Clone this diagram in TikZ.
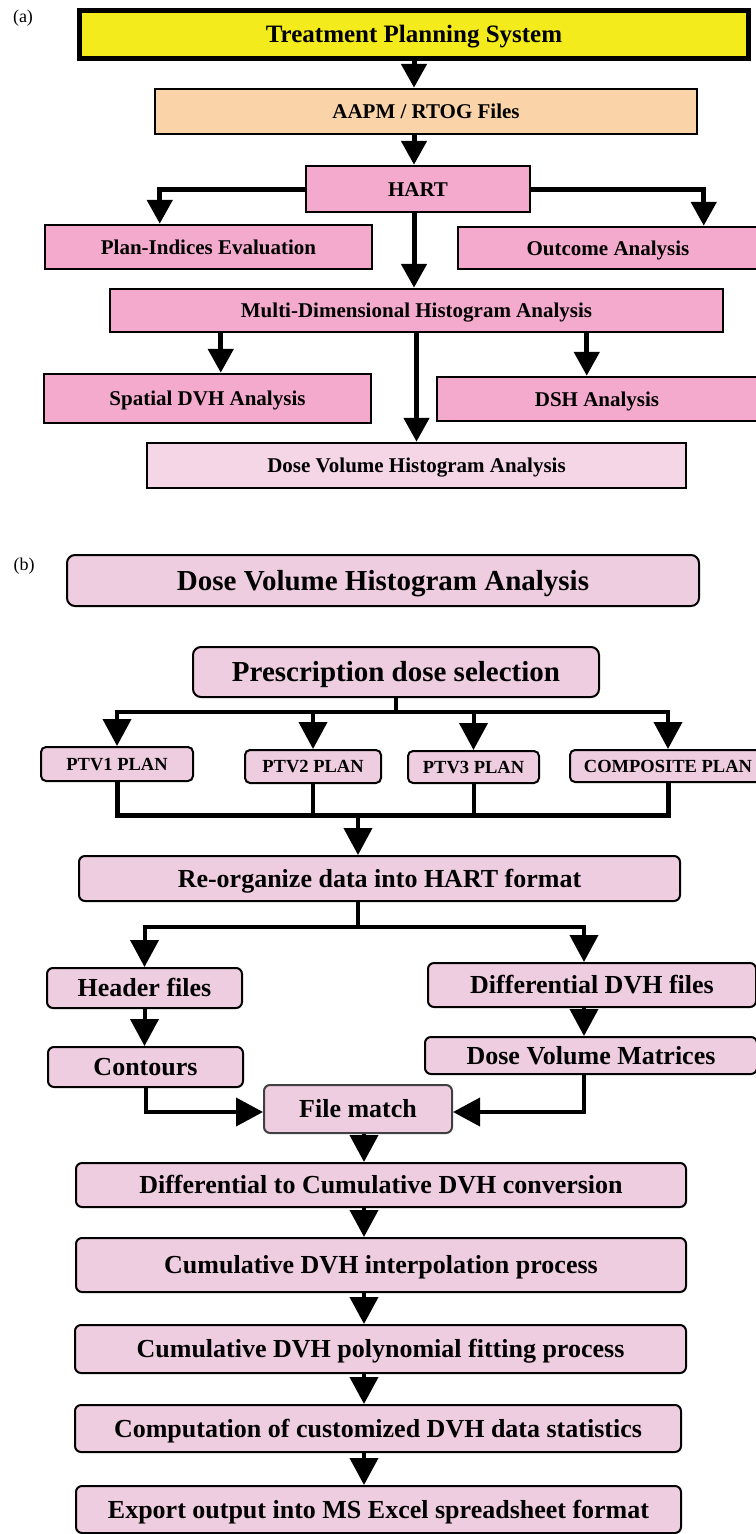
\documentclass[tikz,border=0pt]{standalone}
\usepackage{fontspec}
\setmainfont{Liberation Serif}
\usetikzlibrary{arrows.meta,calc}
\definecolor{tpsY}{RGB}{243,235,27}
\definecolor{peach}{RGB}{250,212,168}
\definecolor{pinkA}{RGB}{243,170,204}
\definecolor{pinkL}{RGB}{245,214,230}
\definecolor{lilac}{RGB}{239,205,224}
\begin{document}
\begin{tikzpicture}[x=1pt,y=-1pt,
 abox/.style={draw=black, line width=2.5pt, fill=pinkA, inner sep=0pt, font=\fontsize{21}{24}\selectfont\bfseries, text height=14pt, text depth=0pt},
 bbox/.style={draw=black, line width=2pt, fill=lilac, rounded corners=6pt, inner sep=0pt, font=\fontsize{26}{30}\selectfont\bfseries, text height=17pt, text depth=0pt},
 bigbox/.style={bbox, rounded corners=8pt, font=\fontsize{29}{32}\selectfont\bfseries, text height=19pt},
 ptvbox/.style={bbox, rounded corners=5pt, font=\fontsize{18.5}{21}\selectfont\bfseries, text height=12.2pt},
 aarr/.style={line width=5pt, -{Triangle[width=25pt,length=24pt]}},
 barr/.style={line width=4pt, -{Triangle[width=28pt,length=27pt]}},
 bline/.style={line width=4pt},
 lbl/.style={font=\fontsize{18}{20}\selectfont, inner sep=0pt}
]
\path[use as bounding box, fill=white] (0,0) rectangle (755,1534);

% ---------------- (a) ----------------
\node[lbl] (la) at (23,18) {(a)};
\node[abox, fill=tpsY, line width=5pt, font=\fontsize{25}{28}\selectfont\bfseries, text height=16.5pt, minimum width=669pt, minimum height=48pt] (tps) at (414,34.5) {Treatment Planning System};
\node[abox, fill=peach, minimum width=542pt, minimum height=45pt] (aapm) at (426,111.5) {AAPM / RTOG Files};
\node[abox, minimum width=224pt, minimum height=46pt] (hart) at (418,189) {HART};
\node[abox, minimum width=327pt, minimum height=44pt] (plan) at (208.5,247) {Plan-Indices Evaluation};
\node[abox, minimum width=300pt, minimum height=42pt] (outc) at (608,248) {Outcome Analysis};
\node[abox, minimum width=613pt, minimum height=43pt] (multi) at (416.5,310.5) {Multi-Dimensional Histogram Analysis};
\node[abox, minimum width=327pt, minimum height=49pt] (spat) at (207.5,398.5) {Spatial DVH Analysis};
\node[abox, minimum width=320pt, minimum height=44pt] (dsh) at (597,399) {DSH Analysis};
\node[abox, fill=pinkL, minimum width=539pt, minimum height=45pt] (dvha) at (416.5,465.5) {Dose Volume Histogram Analysis};

\coordinate (px) at ([xshift=116pt]plan.north west);
\coordinate (ox) at ([xshift=247pt]outc.north west);
\coordinate (sx) at ([xshift=178pt]spat.north west);
\coordinate (dx) at ([xshift=151pt]dsh.north west);

\draw[aarr] (tps.south) -- (tps.south |- aapm.north);
\draw[aarr] (aapm.south -| tps.south) -- (hart.north -| tps.south);
\draw[aarr] (hart.west) -| (px);
\draw[aarr] (hart.east) -| (ox);
\draw[aarr] (hart.south -| tps.south) -- (multi.north -| tps.south);
\draw[aarr] (sx |- multi.south) -- (sx);
\draw[aarr] (multi.south) -- (multi.south |- dvha.north);
\draw[aarr] (dx |- multi.south) -- (dx);

% ---------------- (b) ----------------
\node[lbl] (lb) at (24,566) {(b)};
\node[bigbox, minimum width=632pt, minimum height=51pt] (hdr) at (383,580.5) {Dose Volume Histogram Analysis};
\node[bigbox, minimum width=406pt, minimum height=50pt] (pres) at (396,672) {Prescription dose selection};
\node[ptvbox, minimum width=152pt, minimum height=34pt] (p1) at (117,764) {PTV1 PLAN};
\node[ptvbox, minimum width=136pt, minimum height=33pt] (p2) at (313,766.5) {PTV2 PLAN};
\node[ptvbox, minimum width=131pt, minimum height=32pt] (p3) at (473.5,767) {PTV3 PLAN};
\node[ptvbox, minimum width=196pt, minimum height=32pt] (p4) at (668,766) {COMPOSITE PLAN};

\coordinate (busT) at (0,712);
\coordinate (busB) at (0,815);
\coordinate (busR) at (0,927);
\coordinate (X358) at (358,0);
\coordinate (X584) at (584,0);
\coordinate (X364) at (364,0);

\draw[barr] (pres.south) |- (busT -| p1.north) -- (p1.north);
\draw[barr] (pres.south) |- (busT -| p4.north) -- (p4.north);
\draw[barr] (busT -| p2.north) -- (p2.north);
\draw[barr] (busT -| p3.north) -- (p3.north);

\node[bbox, minimum width=601pt, minimum height=45pt] (reorg) at (379.5,878.5) {Re-organize data into HART format};

\draw[bline, line width=5pt] (p1.south) |- (busB -| p4.south) -- (p4.south);
\draw[bline] (p2.south) -- (p2.south |- busB);
\draw[bline] (p3.south) -- (p3.south |- busB);
\draw[barr] (busB -| X358) -- (reorg.north -| X358);

\node[bbox, minimum width=195pt, minimum height=40pt] (hdrf) at (144.5,988) {Header files};
\node[bbox, minimum width=328pt, minimum height=44pt] (diff) at (592,985) {Differential DVH files};
\node[bbox, minimum width=195pt, minimum height=40pt] (cont) at (145.5,1067) {Contours};
\node[bbox, minimum width=332pt, minimum height=37pt] (dvm) at (591,1055.5) {Dose Volume Matrices};
\node[bbox, draw=black!75, minimum width=188pt, minimum height=48pt] (fm) at (358,1109) {File match};

\draw[barr] (reorg.south -| X358) |- (busR -| hdrf.north) -- (hdrf.north);
\draw[barr] (reorg.south -| X358) |- (busR -| X584) -- (diff.north -| X584);
\draw[barr] (hdrf.south) -- (hdrf.south |- cont.north);
\draw[barr] (diff.south -| X584) -- (dvm.north -| X584);
\draw[barr] (cont.south) |- ([yshift=-3pt]fm.west);
\draw[barr] (dvm.south -| X584) |- ([yshift=-3pt]fm.east);

\node[bbox, minimum width=610pt, minimum height=44pt] (d2c) at (381,1185) {Differential to Cumulative DVH conversion};
\node[bbox, minimum width=610pt, minimum height=54pt] (interp) at (381,1265) {Cumulative DVH interpolation process};
\node[bbox, minimum width=611pt, minimum height=48pt] (poly) at (380.5,1349) {Cumulative DVH polynomial fitting process};
\node[bbox, minimum width=606pt, minimum height=47pt] (compst) at (378,1428.5) {Computation of customized DVH data statistics};
\node[bbox, minimum width=605pt, minimum height=47pt] (export) at (378.5,1509.5) {Export output into MS Excel spreadsheet format};

\draw[barr] (fm.south -| X364) -- (d2c.north -| X364);
\draw[barr] (d2c.south -| X364) -- (interp.north -| X364);
\draw[barr] (interp.south -| X364) -- (poly.north -| X364);
\draw[barr] (poly.south -| X364) -- (compst.north -| X364);
\draw[barr] (compst.south -| X364) -- (export.north -| X364);
\end{tikzpicture}
\end{document}
